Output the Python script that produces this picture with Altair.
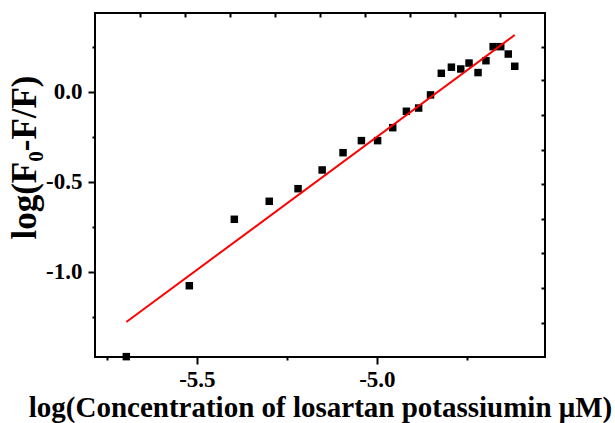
import altair as alt
import pandas as pd

# log of losartan potassium concentration (M) and quenching ratio log((F0-F)/F)
log_conc = [-5.696, -5.521, -5.396, -5.299, -5.219, -5.152, -5.094, -5.043,
            -4.998, -4.956, -4.918, -4.884, -4.851, -4.821, -4.793, -4.767,
            -4.744, -4.719, -4.697, -4.677, -4.656, -4.635, -4.617]
log_ratio = [-1.472, -1.078, -0.709, -0.609, -0.539, -0.435, -0.339, -0.272,
             -0.272, -0.200, -0.109, -0.091, -0.018, 0.102, 0.136, 0.126,
             0.159, 0.106, 0.172, 0.250, 0.250, 0.209, 0.141]

# linear fit  y = slope * x + intercept
fit_slope = 1.478
fit_intercept = 7.139

# axis tick positions
x_major = [-5.5, -5.0]
x_minor = [-5.75, -5.25, -4.75]
y_major = [0.0, -0.5, -1.0]
y_minor = [0.25, -0.25, -0.75, -1.25]
x_top = [-5.658, -5.533, -5.408, -5.283, -5.158, -5.033, -4.908, -4.783, -4.658]
y_right = [0.25, 0.065, -0.129, -0.324, -0.513, -0.706, -0.897, -1.091, -1.283]

x_domain = [-5.783, -4.533]
y_domain = [-1.474, 0.437]

pts = pd.DataFrame({"x": log_conc, "y": log_ratio})
x_lo, x_hi = min(log_conc), max(log_conc)
fit = pd.DataFrame({"x": [x_lo, x_hi],
                    "y": [fit_slope * x_lo + fit_intercept, fit_slope * x_hi + fit_intercept]})

FONT = "Liberation Serif"
xs = alt.Scale(domain=x_domain, nice=False, zero=False)
ys = alt.Scale(domain=y_domain, nice=False, zero=False)

# plain hyphen for negative tick labels
LABEL = "replace(format(datum.value, '.1f'), '\u2212', '-')"

common = dict(grid=False, domain=False, tickColor="black", tickWidth=2,
              labelFont=FONT, labelFontWeight="bold", labelFontSize=23,
              labelColor="black", titleFont=FONT, titleFontWeight="bold",
              titleColor="black")

x_main_axis = alt.Axis(orient="bottom", values=x_major, labelExpr=LABEL, tickSize=7,
                       labelPadding=4, title="log(Concentration of losartan potassiumin μM)",
                       titleFontSize=29, titleX=225, titleY=59, titleAlign="center",
                       titleBaseline="alphabetic", **common)
y_main_axis = alt.Axis(orient="left", values=y_major, labelExpr=LABEL, tickSize=7,
                       labelPadding=6, title="log(F₀-F/F)", titleFontSize=35,
                       titleAngle=270, titleX=-71, titleY=144, titleAlign="center",
                       titleBaseline="middle", **common)
x_minor_axis = alt.Axis(orient="bottom", values=x_minor, tickSize=3, labels=False,
                        title="", **common)
y_minor_axis = alt.Axis(orient="left", values=y_minor, tickSize=3, labels=False,
                        title="", **common)
x_top_axis = alt.Axis(orient="top", values=x_top, tickSize=4, offset=-4,
                      labels=False, title="", **common)
y_right_axis = alt.Axis(orient="right", values=y_right, tickSize=4, offset=-4,
                        labels=False, title="", **common)

points = alt.Chart(pts).mark_square(size=56, color="black", opacity=1).encode(
    x=alt.X("x:Q", scale=xs, axis=x_main_axis),
    y=alt.Y("y:Q", scale=ys, axis=y_main_axis),
)

fit_line = alt.Chart(fit).mark_line(color="#ff0000", strokeWidth=2).encode(
    x=alt.X("x:Q", scale=xs, axis=x_minor_axis),
    y=alt.Y("y:Q", scale=ys, axis=y_minor_axis),
)

frame_ticks = alt.Chart(pts).mark_point(opacity=0).encode(
    x=alt.X("x:Q", scale=xs, axis=x_top_axis),
    y=alt.Y("y:Q", scale=ys, axis=y_right_axis),
)

chart = alt.layer(points, fit_line, frame_ticks).resolve_axis(
    x="independent", y="independent"
).properties(
    width=450, height=344,
    autosize=alt.AutoSizeParams(type="none"),
    padding={"left": 95, "top": 13, "right": 70, "bottom": 66},
    background="white",
).configure_view(stroke="black", strokeWidth=2)

chart.save("out.html", embed_options={"renderer": "svg", "actions": False})
